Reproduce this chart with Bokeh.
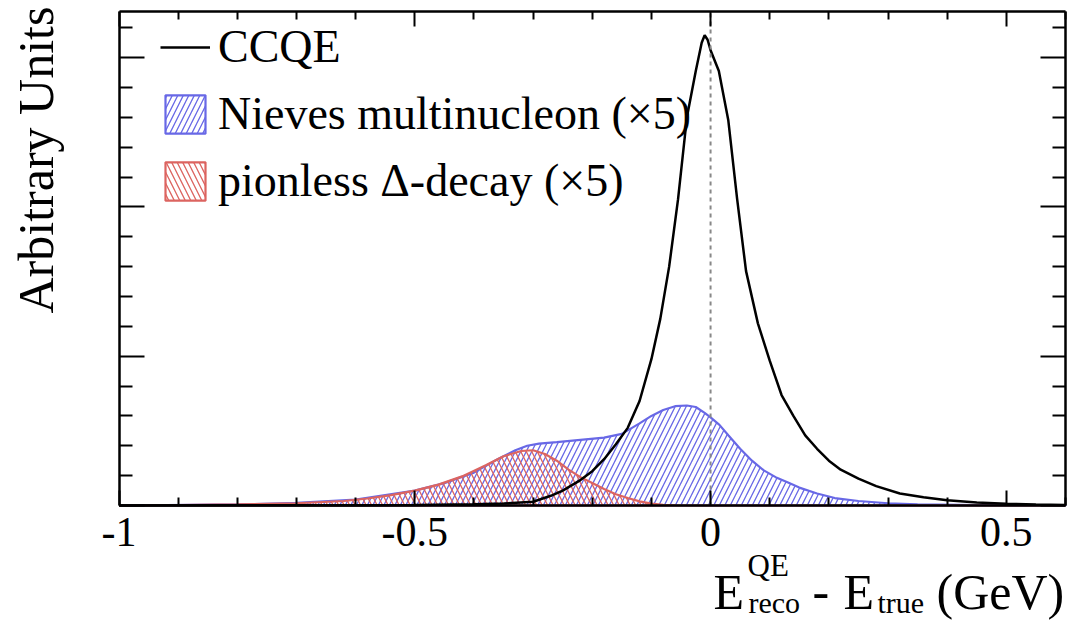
import math
from bokeh.plotting import figure
from bokeh.models import (Range1d, FixedTicker, LinearAxis, Label,
                          Legend, LegendItem)
from bokeh.embed import file_html
from bokeh.resources import INLINE

# ---------------- data ----------------
ccqe_x = [-1.0, -0.8, -0.6, -0.5, -0.4, -0.35, -0.30, -0.27, -0.25, -0.22,
          -0.20, -0.18, -0.16, -0.14, -0.12, -0.10, -0.085, -0.07, -0.055,
          -0.04, -0.025, -0.015, -0.01, -0.005, 0.0, 0.014, 0.03, 0.045,
          0.06, 0.08, 0.10, 0.12, 0.14, 0.16, 0.18, 0.20, 0.22, 0.25, 0.28,
          0.32, 0.36, 0.40, 0.45, 0.50, 0.55, 0.60]
ccqe_y = [0.0, 0.001, 0.002, 0.004, 0.008, 0.013, 0.025, 0.065, 0.10, 0.17,
          0.23, 0.31, 0.41, 0.52, 0.70, 0.98, 1.25, 1.60, 2.05,
          2.60, 2.91, 3.10, 3.15, 3.12, 3.05, 2.91, 2.58, 2.05,
          1.57, 1.22, 0.97, 0.74, 0.60, 0.47, 0.38, 0.30, 0.24, 0.18, 0.13,
          0.08, 0.055, 0.035, 0.02, 0.012, 0.007, 0.004]

nieves_x = [-1.0, -0.8, -0.7, -0.6, -0.5, -0.45, -0.40, -0.36, -0.33, -0.31,
            -0.29, -0.26, -0.22, -0.18, -0.15, -0.12, -0.10, -0.08, -0.06,
            -0.04, -0.025, -0.01, 0.0, 0.015, 0.03, 0.05, 0.07, 0.09, 0.11,
            0.13, 0.15, 0.18, 0.21, 0.25, 0.30, 0.35, 0.45, 0.60]
nieves_y = [0.0, 0.007, 0.017, 0.04, 0.10, 0.15, 0.22, 0.31, 0.37, 0.40,
            0.415, 0.425, 0.44, 0.455, 0.48, 0.55, 0.60, 0.64, 0.665,
            0.67, 0.66, 0.62, 0.59, 0.54, 0.47, 0.38, 0.30, 0.235, 0.19,
            0.155, 0.12, 0.08, 0.05, 0.03, 0.015, 0.008, 0.003, 0.001]

delta_x = [-1.0, -0.9, -0.8, -0.7, -0.62, -0.58, -0.54, -0.50, -0.46, -0.42,
           -0.38, -0.35, -0.32, -0.30, -0.28, -0.26, -0.24, -0.22, -0.20,
           -0.18, -0.16, -0.14, -0.12, -0.10, -0.08, -0.06, -0.04, 0.6]
delta_y = [0.0, 0.003, 0.007, 0.015, 0.03, 0.047, 0.07, 0.10, 0.14, 0.195,
           0.27, 0.33, 0.365, 0.37, 0.345, 0.30, 0.24, 0.19, 0.15,
           0.11, 0.075, 0.05, 0.028, 0.013, 0.005, 0.001, 0.0, 0.0]

series_labels = ["CCQE", "Nieves multinucleon (\u00d75)", "pionless \u0394-decay (\u00d75)"]
x_ticks = [-1, -0.5, 0, 0.5]
x_tick_labels = ["-1", "-0.5", "0", "0.5"]
x_minor = [-0.9, -0.8, -0.7, -0.6, -0.4, -0.3, -0.2, -0.1, 0.1, 0.2, 0.3, 0.4, 0.6]
y_ticks = [0, 1, 2, 3]
y_minor = [0.2, 0.4, 0.6, 0.8, 1.2, 1.4, 1.6, 1.8, 2.2, 2.4, 2.6, 2.8, 3.2]

FONT = "Liberation Serif"

# ---------------- layout (pixels of the canvas) ----------------
W, H = 1071, 623
BOX_L, BOX_R, BOX_T, BOX_B = 118.5, 1065.0, 11.0, 505.0
X0, X1 = -1.0, 0.6
Y0, Y1 = 0.0, 3.309
kx = (BOX_R - BOX_L) / (X1 - X0)
ky = (BOX_B - BOX_T) / (Y1 - Y0)
xr = Range1d(X0 - BOX_L / kx, X0 + (W - BOX_L) / kx)
yr = Range1d(Y0 - (H - BOX_B) / ky, Y1 + BOX_T / ky)

def xd(px):
    return xr.start + px / kx

def yd(py):
    return yr.end - py / ky

p = figure(width=W, height=H, x_range=xr, y_range=yr,
           x_axis_type=None, y_axis_type=None,
           output_backend="svg", toolbar_location=None,
           min_border=0, min_border_left=0, min_border_right=0,
           min_border_top=0, min_border_bottom=0)
p.grid.visible = False
p.outline_line_color = None
p.background_fill_color = "white"
p.border_fill_color = "white"

xt = FixedTicker(ticks=x_ticks, minor_ticks=x_minor)
yt = FixedTicker(ticks=y_ticks, minor_ticks=y_minor)

def make_axis(ticker, loc, bounds, major_in, minor_in, labels):
    ax = LinearAxis(ticker=ticker, fixed_location=loc, bounds=bounds)
    ax.major_tick_out = 0
    ax.minor_tick_out = 0
    ax.major_tick_in = major_in
    ax.minor_tick_in = minor_in
    ax.axis_line_width = 2.5
    ax.axis_line_color = "black"
    ax.major_tick_line_width = 2
    ax.minor_tick_line_width = 2
    if labels:
        ax.major_label_overrides = {t: s for t, s in zip(x_ticks, x_tick_labels)}
        ax.major_label_text_font = FONT
        ax.major_label_text_font_size = "42px"
        ax.major_label_text_color = "black"
        ax.major_label_standoff = 12
    else:
        ax.major_label_text_color = None
    return ax

p.add_layout(make_axis(xt, Y0, (X0, X1), 15, 8, True), "below")
p.add_layout(make_axis(xt, Y1, (X0, X1), 15, 8, False), "above")
p.add_layout(make_axis(yt, X0, (Y0, Y1), 25, 13, False), "left")
p.add_layout(make_axis(yt, X1, (Y0, Y1), 25, 13, False), "right")

# ---------------- glyphs ----------------
BLUE = "#6868e6"
RED = "#dc6460"
blue_r = p.patch(nieves_x + nieves_x[::-1], nieves_y + [0.0] * len(nieves_y),
                 fill_alpha=0, line_color=BLUE, line_width=2.2,
                 hatch_pattern="/", hatch_color=BLUE, hatch_scale=11,
                 hatch_weight=1.3)
red_r = p.patch(delta_x + delta_x[::-1], delta_y + [0.0] * len(delta_y),
                fill_alpha=0, line_color=RED, line_width=2.2,
                hatch_pattern="\\", hatch_color=RED, hatch_scale=11,
                hatch_weight=1.3)
ccqe_r = p.line(ccqe_x, ccqe_y, line_color="black", line_width=2.5)

# dashed reference line at zero
p.line([0, 0], [Y0, Y1], line_color="#888888", line_dash="4 4", line_width=2)

legend = Legend(items=[LegendItem(label=series_labels[0], renderers=[ccqe_r]),
                       LegendItem(label=series_labels[1], renderers=[blue_r]),
                       LegendItem(label=series_labels[2], renderers=[red_r])],
                location=(160, H - 207), padding=0, margin=0, spacing=14,
                glyph_width=50, glyph_height=48, label_standoff=8,
                label_text_font=FONT, label_text_font_size="46px",
                label_text_color="black",
                border_line_alpha=0, background_fill_alpha=0)
p.add_layout(legend)

# ---------------- axis titles ----------------
SHIFT = 17  # Bokeh draws the alphabetic baseline this far below the anchor

def lab(text, px, py, size, angle=0.0):
    if angle == 0.0:
        py = py - SHIFT
    else:
        px = px - SHIFT
    p.add_layout(Label(x=xd(px), y=yd(py), text=text, text_font=FONT,
                       text_font_size=size, text_color="black",
                       text_align="left", text_baseline="alphabetic",
                       angle=angle))

lab("E", 713, 608, "50px")
lab("QE", 747, 582, "31px")
lab("reco", 748, 619, "30px")
lab("-", 812, 608, "50px")
lab("E", 843, 608, "50px")
lab("true", 877, 619, "30px")
lab("(GeV)", 936, 608, "50px")
lab("Arbitrary Units", 52, 313, "50px", angle=math.pi / 2)

open("out.html", "w").write(file_html(p, INLINE))
